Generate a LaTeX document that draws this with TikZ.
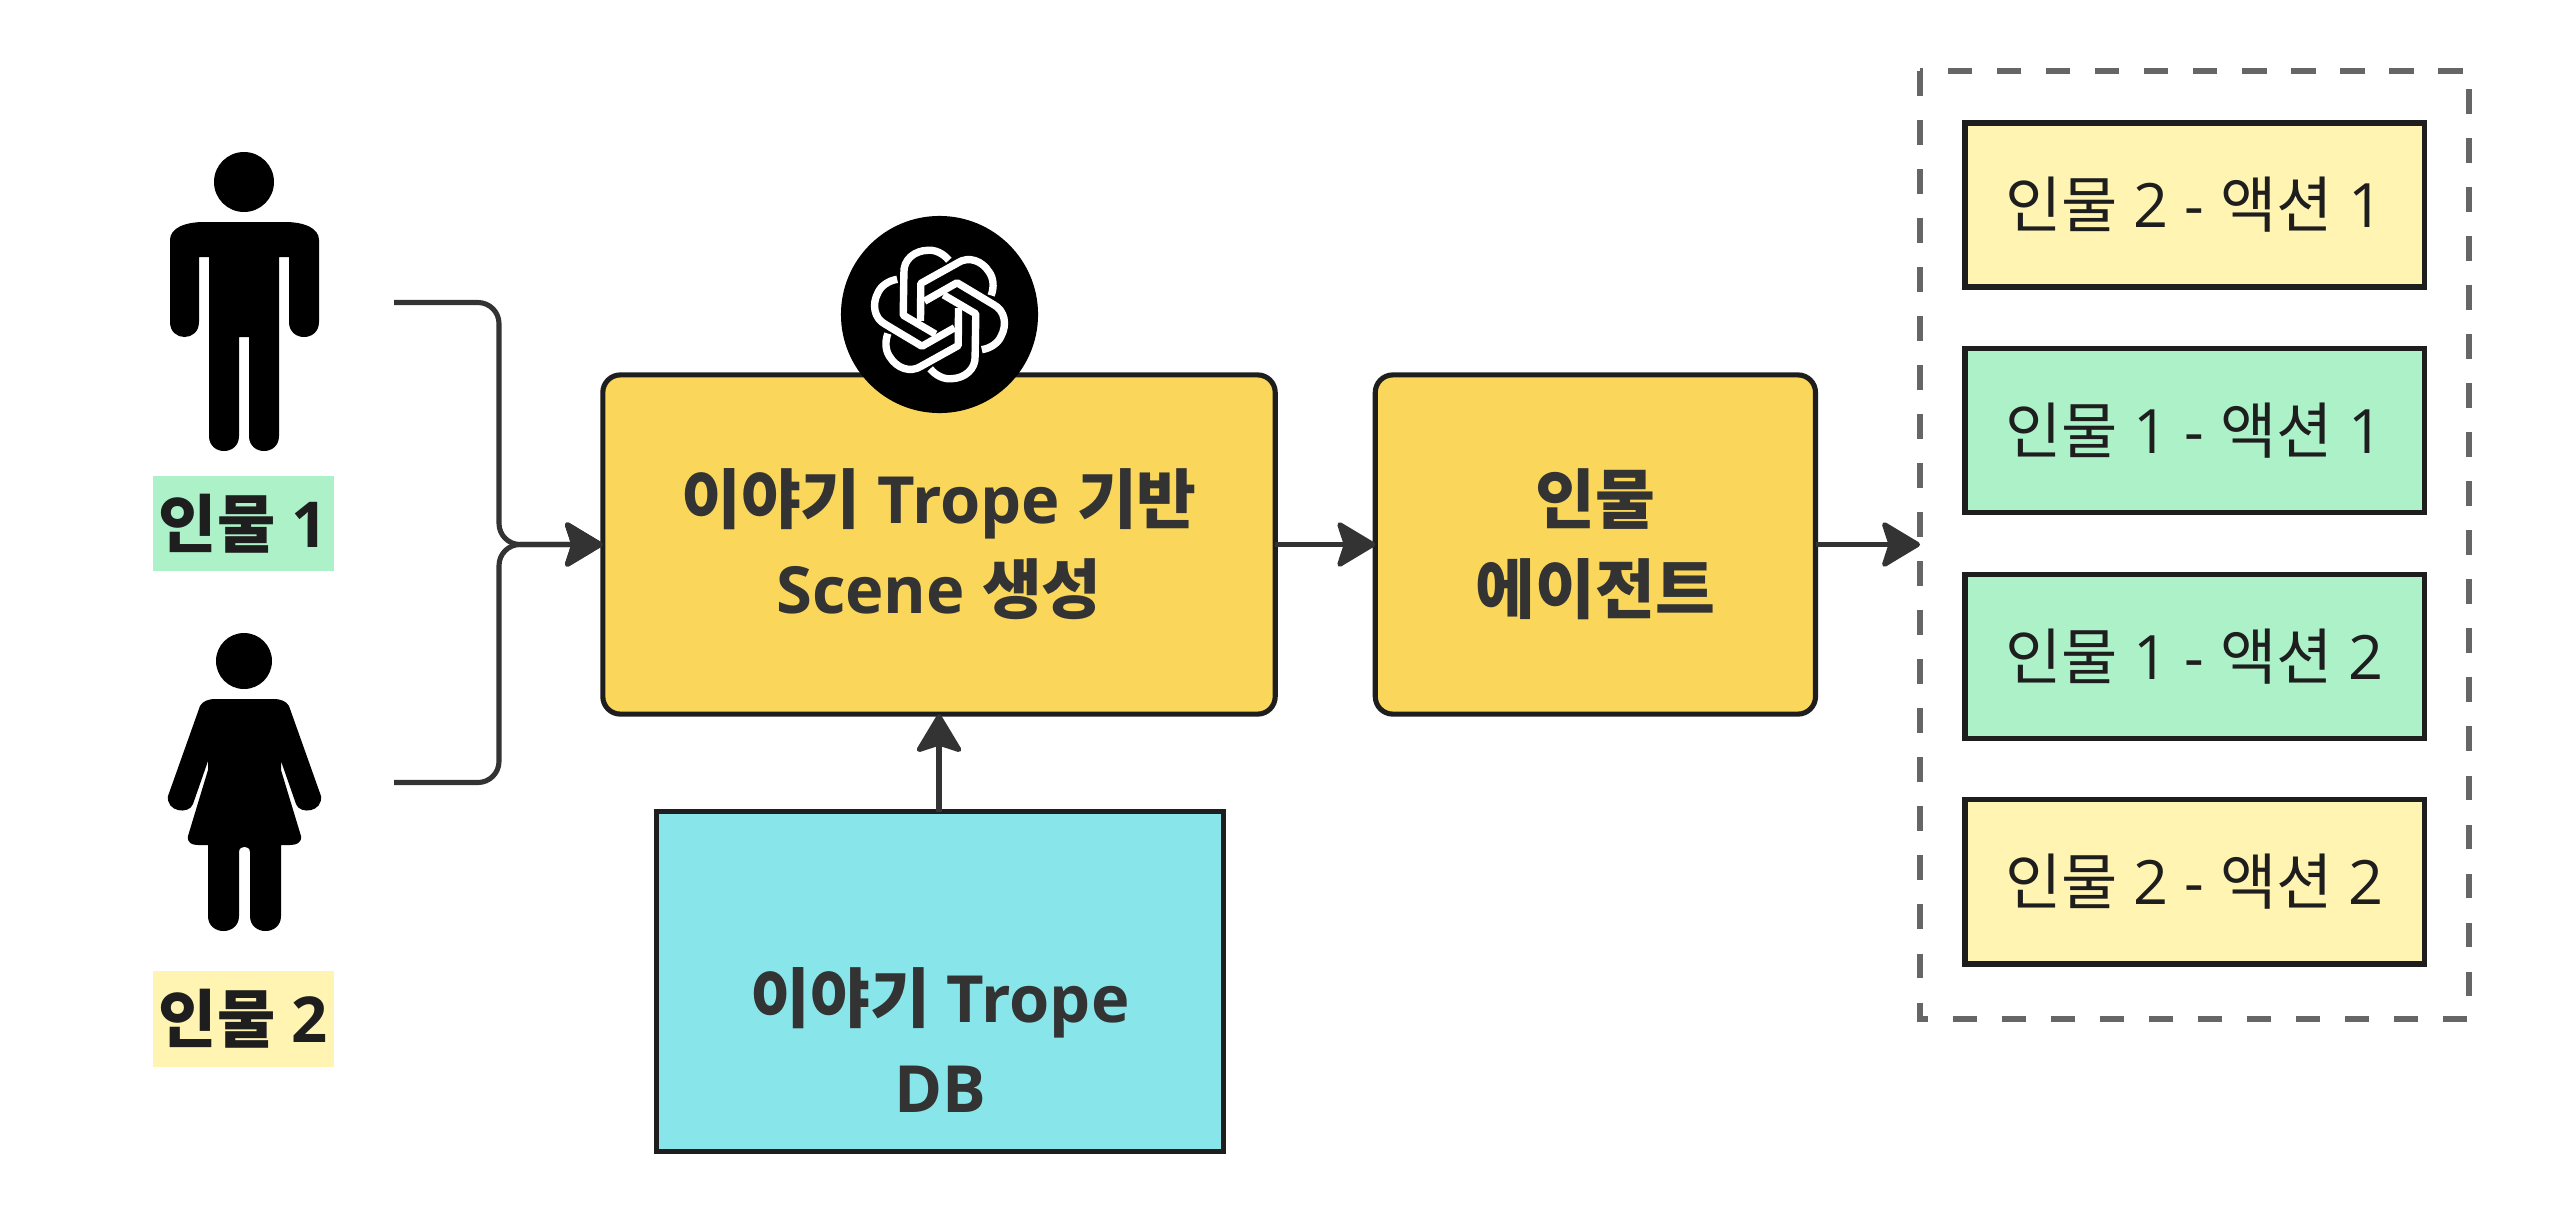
\documentclass[tikz,border=0pt]{standalone}
\usepackage{fontspec}
\setmainfont{Open Sans}
\newfontfamily\kofont{Noto Sans CJK KR}
\newcommand{\ko}[1]{{\kofont #1}}
\usetikzlibrary{arrows.meta,shapes.geometric,positioning}
\definecolor{inkdark}{HTML}{1E1E1E}
\definecolor{inkflow}{HTML}{333333}
\definecolor{inkdash}{HTML}{666666}
\definecolor{fillgold}{HTML}{FAD75B}
\definecolor{fillmint}{HTML}{ACF1C8}
\definecolor{fillcream}{HTML}{FFF4B2}
\definecolor{fillcyan}{HTML}{88E6EA}
\tikzset{%
stage/.style={draw=inkdark,fill=fillgold,line width=1.45pt,rounded corners=5pt,inner sep=0pt,outer sep=0pt,align=center,minimum height=3.39cm,text=inkflow,font=\fontsize{18.5}{25.6}\selectfont\bfseries},
action/.style={draw=inkdark,line width=1.5pt,inner sep=0pt,outer sep=0pt,minimum width=4.59cm,minimum height=1.64cm,text=inkdark,font=\fontsize{17.4}{20}\selectfont},
who/.style={inner sep=0pt,outer sep=0pt,minimum width=1.80cm,minimum height=0.95cm,text=inkdark,font=\fontsize{18}{20}\selectfont\bfseries},
store/.style={cylinder,shape border rotate=90,aspect=0.4,draw=inkdark,fill=fillcyan,line width=1.45pt,inner sep=0pt,outer sep=0pt,minimum width=5.66cm,minimum height=3.40cm},
flow/.style={draw=inkflow,line width=1.45pt,-{Stealth[length=4.2mm,width=5mm,inset=0.8mm,round]}},
group/.style={draw=inkdash,line width=1.45pt,dash pattern=on 2.45mm off 2.45mm},
person/.style={fill=black},
knot/.style={draw=white,line width=2.1pt,line join=round}
}
\begin{document}
\begin{tikzpicture}[x=0.01cm,y=-0.01cm]
\useasboundingbox (0,0) rectangle (2558,1212);
\node[who,fill=fillmint]       (who1)   at (243.5,523.5)          {\ko{인물} 1};
\node[who,fill=fillcream]      (who2)   at (243.5,1019)           {\ko{인물} 2};
\fill[person] (244,182) circle (30);
\fill[person] (170,240) .. controls (170,228) and (185,222) .. (204,222) -- (285,222) .. controls (304,222) and (319,228) .. (319,240) -- (319,322) .. controls (319,342) and (289,342) .. (289,322) -- (289,257) -- (279,257) -- (279,436) .. controls (279,456) and (249,456) .. (249,436) -- (249,337) -- (239,337) -- (239,436) .. controls (239,456) and (209,456) .. (209,436) -- (209,257) -- (199,257) -- (199,322) .. controls (199,342) and (170,342) .. (170,322) -- cycle;
\fill[person] (244,661) circle (28);
\fill[person] (200,706) .. controls (203,701) and (208,699) .. (216,699) -- (273,699) .. controls (281,699) and (286,701) .. (289,706) -- (321,796) .. controls (323,812) and (300,815) .. (296,804) -- (281,761) -- (281,770) -- (301,836) .. controls (302,843) and (296,845) .. (290,845) -- (281,845) -- (281,916) .. controls (281,936) and (250,936) .. (250,916) -- (250,852) .. controls (250,845) and (239,845) .. (239,852) -- (239,916) .. controls (239,936) and (208,936) .. (208,916) -- (208,845) -- (198,845) .. controls (192,845) and (187,843) .. (188,836) -- (208,770) -- (208,761) -- (193,804) .. controls (189,815) and (166,812) .. (168,796) -- cycle;

\node[stage,minimum width=6.72cm]             (scene)  at (939,544.5)  {\ko{이야기} Trope \ko{기반}\\Scene \ko{생성}};
\node[stage,minimum width=4.40cm,right=1.0cm] (agent)  at (scene.east) {\ko{인물}\\\ko{에이전트}};
\node[store]                                  (db)     at (940,983)    {};
\node[inkflow,align=center,inner sep=0pt,
      font=\fontsize{18.5}{25.6}\selectfont\bfseries]
                                              (dbtext) at (940,1040)   {\ko{이야기} Trope\\DB};
\node[circle,fill=black,minimum size=1.97cm,inner sep=0pt] (logo) at (939.5,314.5) {};

\node[action,fill=fillcream]                  (act1)   at (2194.5,205) {\ko{인물} 2 - \ko{액션} 1};
\node[action,fill=fillmint,below=0.615cm]     (act2)   at (act1.south) {\ko{인물} 1 - \ko{액션} 1};
\node[action,fill=fillmint,below=0.615cm]     (act3)   at (act2.south) {\ko{인물} 1 - \ko{액션} 2};
\node[action,fill=fillcream,below=0.615cm]    (act4)   at (act3.south) {\ko{인물} 2 - \ko{액션} 2};
\draw[group] (1920,71) coordinate (box) rectangle (2469,1019) coordinate (boxend);
\coordinate (boxin) at (box |- scene.east);

\foreach \a in {0,60,...,300}
  \draw[knot,shift={(logo.center)},x=0.00333cm,y=-0.00333cm,rotate=\a]
    (28,-163) .. controls (10,-185) and (-15,-195) .. (-35,-193) .. controls (-75,-192) and (-109,-165) .. (-107,-125) -- (-109,2) -- (-12,59);

\coordinate (from1) at (394,302.5);
\coordinate (from2) at (394,782.5);
\coordinate (joint) at (499,544.5);
\foreach \s in {from1,from2}
  \draw[flow,rounded corners=6pt] (\s) -| (joint) -- (scene.west);
\draw[flow] (scene.east) -- (agent.west);
\draw[flow] (agent.east) -- (boxin);
\draw[flow] (db.north -| scene.south) -- (scene.south);
\end{tikzpicture}
\end{document}
